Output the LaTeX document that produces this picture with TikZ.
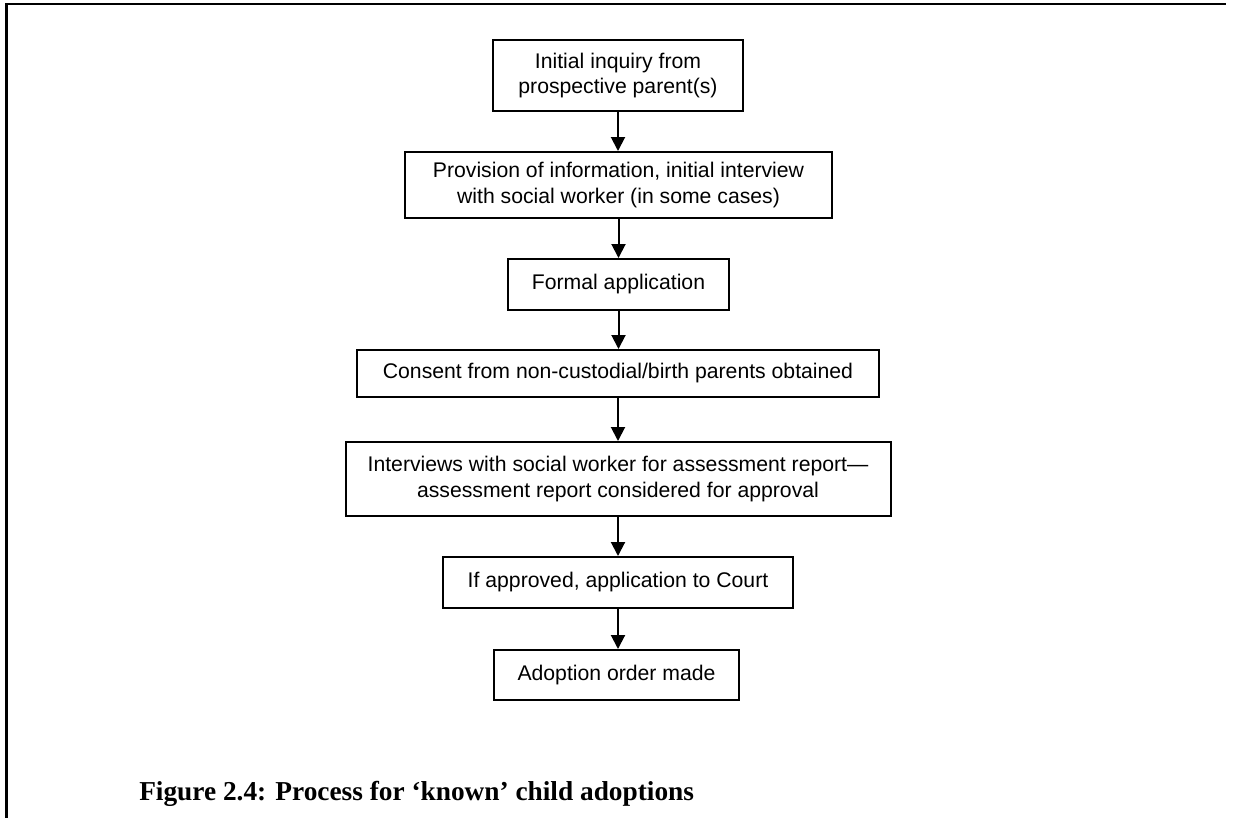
\documentclass[tikz,border=0pt]{standalone}
\usepackage{fontspec}
\newfontfamily\boxfont{Liberation Sans}
\newfontfamily\capfont{Liberation Serif}
\usetikzlibrary{arrows.meta}
\tikzset{
  stepbox/.style={draw, line width=1.5pt, align=center, inner sep=0pt,
    font=\boxfont\fontsize{15.9pt}{18.8pt}\selectfont},
  flow/.style={line width=1.5pt, -{Triangle[width=10.5pt,length=10.5pt]}},
  framebox/.style={line width=1.9pt}
}
\begin{document}
\begin{tikzpicture}[x=0.75pt,y=-0.75pt]
\useasboundingbox (0,0) rectangle (1236,818);
\draw[framebox] (6.5,818) -- (6.5,4) -- (1226,4);
\node[stepbox, minimum width=250*0.75pt, minimum height=71*0.75pt] (n1) at (618,75.5) {Initial inquiry from\\prospective parent(s)};
\node[stepbox, minimum width=427*0.75pt, minimum height=66*0.75pt] (n2) at (618.5,185) {Provision of information, initial interview\\with social worker (in some cases)};
\node[stepbox, minimum width=221*0.75pt, minimum height=51*0.75pt] (n3) at (618.5,284.5) {Formal application};
\node[stepbox, minimum width=522*0.75pt, minimum height=47*0.75pt] (n4) at (618,373.5) {Consent from non-custodial/birth parents obtained};
\node[stepbox, minimum width=545*0.75pt, minimum height=74*0.75pt] (n5) at (618,479) {Interviews with social worker for assessment report—\\assessment report considered for approval};
\node[stepbox, minimum width=350*0.75pt, minimum height=51*0.75pt] (n6) at (618,582.5) {If approved, application to Court};
\node[stepbox, minimum width=245*0.75pt, minimum height=50*0.75pt] (n7) at (616.5,675) {Adoption order made};
\draw[flow] (n1.south) -- (n1.south |- n2.north);
\draw[flow] (n2.south) -- (n2.south |- n3.north);
\draw[flow] (n3.south) -- (n3.south |- n4.north);
\draw[flow] (n4.south) -- (n4.south |- n5.north);
\draw[flow] (n5.south) -- (n5.south |- n6.north);
\draw[flow] (n6.south) -- (n6.south |- n7.north);
\node[anchor=base west, inner sep=0pt, font=\capfont\bfseries\fontsize{20.5pt}{24pt}\selectfont] (cap) at (139,800) {Figure 2.4: Process for ‘known’ child adoptions};
\end{tikzpicture}
\end{document}
